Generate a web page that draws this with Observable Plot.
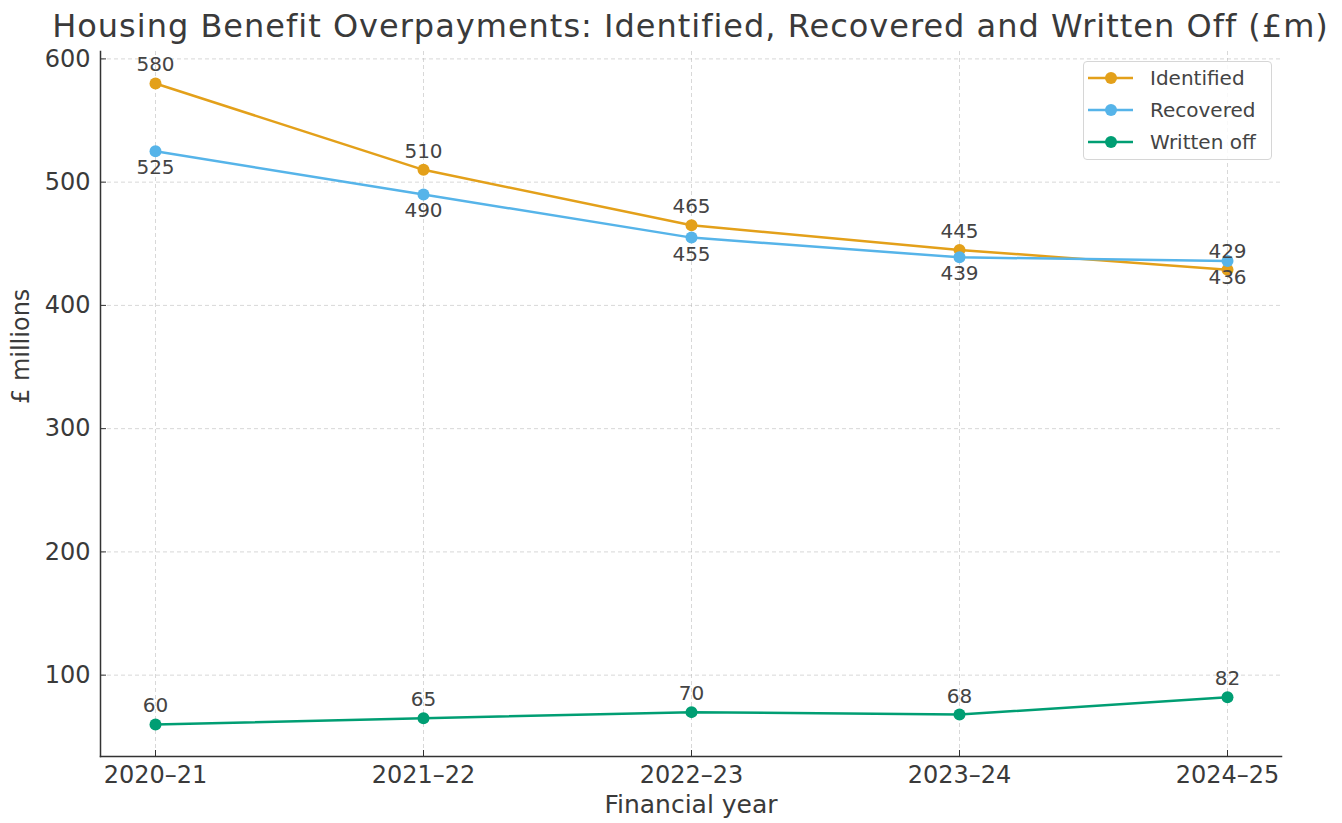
<!DOCTYPE html>
<html>
<head>
<meta charset="utf-8">
<script src="https://cdn.jsdelivr.net/npm/d3@7"></script>
<script src="https://cdn.jsdelivr.net/npm/@observablehq/plot@0.6"></script>
<style>
  html, body { margin: 0; padding: 0; background: white; }
  #wrap { position: relative; width: 1342px; height: 823px; overflow: hidden; font-family: "DejaVu Sans", sans-serif; }
  #title { position: absolute; left: 0; top: 0; width: 1381px; text-align: center; font-size: 32px; line-height: 32px; padding-top: 10px; letter-spacing: 1px; color: #3a3a3a; white-space: nowrap; }
  #chart { position: absolute; left: 0; top: 46px; }
  #legend { position: absolute; left: 1083px; top: 61px; width: 189px; height: 99px; box-sizing: border-box; border: 1px solid #d6d6d6; border-radius: 4px; background: rgba(255,255,255,0.85); }
</style>
</head>
<body>
<div id="wrap">
  <div id="title">Housing Benefit Overpayments: Identified, Recovered and Written Off (£m)</div>
  <div id="chart"></div>
  <div id="legend"></div>
</div>
<script>
const years = ["2020–21", "2021–22", "2022–23", "2023–24", "2024–25"];
const seriesNames = ["Identified", "Recovered", "Written off"];
const identified = [580, 510, 465, 445, 429];
const recovered = [525, 490, 455, 439, 436];
const writtenOff = [60, 65, 70, 68, 82];
const yTicks = [100, 200, 300, 400, 500, 600];
const colors = ["#E3A01A", "#56B4E9", "#009E73"];
const labelSide = ["above", "below", "above"];

const valuesBySeries = [identified, recovered, writtenOff];
const rows = [];
seriesNames.forEach((s, si) => {
  valuesBySeries[si].forEach((v, i) => rows.push({series: s, year: years[i], value: v, side: labelSide[si]}));
});

const gridStyle = {stroke: "#b8b8b8", strokeOpacity: 0.55, strokeDasharray: "4,3", strokeWidth: 1};

const chart = Plot.plot({
  width: 1342,
  height: 777,
  marginLeft: 100,
  marginRight: 61,
  marginTop: 5,
  marginBottom: 67,
  style: {fontFamily: "DejaVu Sans, sans-serif", background: "white", color: "#3a3a3a", overflow: "visible"},
  x: {type: "point", domain: years, padding: 0.2},
  y: {domain: [34, 606]},
  color: {domain: seriesNames, range: colors},
  marks: [
    Plot.gridX(years, gridStyle),
    Plot.gridY(yTicks, gridStyle),
    Plot.axisX({ticks: years, tickSize: -6, tickPadding: 15, fontSize: 24, label: null, stroke: "#333"}),
    Plot.axisY({ticks: yTicks, tickSize: -6, tickPadding: 16, fontSize: 24, label: null, stroke: "#333", tickFormat: d => String(d)}),
    Plot.frame({anchor: "left", stroke: "#333", strokeWidth: 1.5}),
    Plot.frame({anchor: "bottom", stroke: "#333", strokeWidth: 1.5}),
    Plot.line(rows, {x: "year", y: "value", z: "series", stroke: "series", strokeWidth: 2.5}),
    Plot.dot(rows, {x: "year", y: "value", fill: "series", r: 6}),
    Plot.text(rows.filter(d => d.side === "above"), {x: "year", y: "value", text: d => String(d.value), dy: -18.5, fontSize: 20, fill: "#444"}),
    Plot.text(rows.filter(d => d.side === "below"), {x: "year", y: "value", text: d => String(d.value), dy: 16.5, fontSize: 20, fill: "#444"}),
    Plot.text(["Financial year"], {frameAnchor: "bottom", text: d => d, dy: 56, fontSize: 25, fill: "#3a3a3a"}),
    Plot.text(["£ millions"], {frameAnchor: "left", text: d => d, dx: -79, rotate: -90, fontSize: 24, fill: "#3a3a3a"})
  ]
});
document.getElementById("chart").appendChild(chart);

// legend
const leg = d3.select("#legend").append("svg").attr("width", 187).attr("height", 97)
  .style("font-family", "DejaVu Sans, sans-serif");
seriesNames.forEach((s, i) => {
  const cy = 16 + i * 32;
  const g = leg.append("g");
  g.append("line").attr("x1", 4).attr("x2", 49).attr("y1", cy).attr("y2", cy).attr("stroke", colors[i]).attr("stroke-width", 2.5);
  g.append("circle").attr("cx", 27).attr("cy", cy).attr("r", 6).attr("fill", colors[i]);
  g.append("text").attr("x", 66).attr("y", cy).attr("dy", "0.35em").attr("font-size", 20).attr("fill", "#444").text(s);
});
</script>
</body>
</html>
